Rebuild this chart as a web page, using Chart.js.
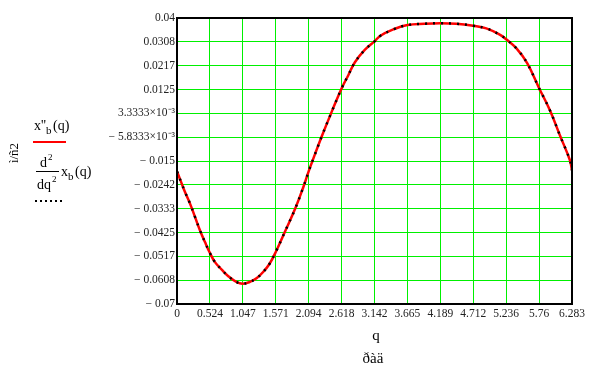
<!DOCTYPE html>
<html>
<head>
  <meta charset="UTF-8">
  <title>x''b(q)</title>
  <script src="https://cdn.jsdelivr.net/npm/chart.js"></script>
  <style>
    body { margin: 0; background: #fff; }
    #wrap { width: 597px; height: 371px; position: relative; }
  </style>
</head>
<body>
  <div id="wrap"><canvas id="chart"></canvas></div>

  <script>
    // q, rad
    const qVals = [0, 0.075, 0.127, 0.207, 0.286, 0.366, 0.445, 0.524, 0.604, 0.711, 0.816, 0.95, 1.047,
      1.16, 1.27, 1.37, 1.47, 1.571, 1.72, 1.877, 2.01, 2.094, 2.17, 2.30, 2.46, 2.618, 2.725, 2.83,
      2.99, 3.142, 3.23, 3.44, 3.665, 3.94, 4.189, 4.44, 4.712, 4.92, 5.14, 5.236, 5.40, 5.57, 5.76,
      5.93, 6.09, 6.25, 6.283];
    // x''b(q)
    const accVals = [-0.0190, -0.0237, -0.0269, -0.0314, -0.0365, -0.0417, -0.0462, -0.0504, -0.0539,
      -0.0568, -0.0593, -0.0616, -0.0622,
      -0.0615, -0.0600, -0.0577, -0.0546, -0.0500, -0.0420, -0.0335, -0.0250, -0.0190, -0.0140,
      -0.0057, 0.0039, 0.0129, 0.0180, 0.0230,
      0.0278, 0.0310, 0.0331, 0.0356, 0.0373, 0.0378, 0.0380, 0.0378, 0.0370, 0.0360, 0.0335,
      0.0318, 0.0283, 0.0226, 0.0130, 0.0046, -0.0051, -0.0147, -0.0186];

    const xTickVals = [0, 0.524, 1.047, 1.571, 2.094, 2.618, 3.142, 3.665, 4.189, 4.712, 5.236, 5.76, 6.283];
    const xTickLabels = ["0", "0.524", "1.047", "1.571", "2.094", "2.618", "3.142", "3.665", "4.189", "4.712", "5.236", "5.76", "6.283"];
    const yTickVals = [0.04, 0.030833, 0.021667, 0.0125, 0.0033333, -0.0058333, -0.015, -0.024167,
      -0.033333, -0.0425, -0.051667, -0.060833, -0.07];
    const yTickLabels = ["0.04", "0.0308", "0.0217", "0.0125", "3.3333×10⁻³", "− 5.8333×10⁻³", "− 0.015",
      "− 0.0242", "− 0.0333", "− 0.0425", "− 0.0517", "− 0.0608", "− 0.07"];

    const points = qVals.map((q, i) => ({ x: q, y: accVals[i] }));
    const SERIF = '"Liberation Serif", "Times New Roman", serif';

    // рамка, легенда и подписи осей
    const extras = {
      id: 'extras',
      afterDraw(chart) {
        const ctx = chart.ctx;
        const a = chart.chartArea;
        ctx.save();
        ctx.strokeStyle = '#000';
        ctx.lineWidth = 2;
        ctx.strokeRect(a.left, a.top, a.right - a.left, a.bottom - a.top);

        ctx.fillStyle = '#000';
        ctx.textBaseline = 'alphabetic';
        ctx.textAlign = 'left';

        // x''b(q)
        ctx.font = '14px ' + SERIF;
        ctx.fillText("x''", 34, 130);
        ctx.font = '11px ' + SERIF;
        ctx.fillText("b", 46, 134);
        ctx.font = '14px ' + SERIF;
        ctx.fillText("(q)", 53, 130);
        ctx.strokeStyle = '#ff0000';
        ctx.lineWidth = 2;
        ctx.beginPath(); ctx.moveTo(33, 142); ctx.lineTo(66, 142); ctx.stroke();

        // d²/dq² xb(q)
        ctx.font = '14px ' + SERIF;
        ctx.fillText("d", 40, 167);
        ctx.font = '9px ' + SERIF;
        ctx.fillText("2", 48, 160);
        ctx.font = '14px ' + SERIF;
        ctx.fillText("dq", 37, 189);
        ctx.font = '9px ' + SERIF;
        ctx.fillText("2", 52, 182);
        ctx.strokeStyle = '#000';
        ctx.lineWidth = 1;
        ctx.beginPath(); ctx.moveTo(36, 171.5); ctx.lineTo(59, 171.5); ctx.stroke();
        ctx.font = '14px ' + SERIF;
        ctx.fillText("x", 61, 176);
        ctx.font = '11px ' + SERIF;
        ctx.fillText("b", 68, 180);
        ctx.font = '14px ' + SERIF;
        ctx.fillText("(q)", 75, 176);
        ctx.lineWidth = 2;
        ctx.setLineDash([2, 3]);
        ctx.beginPath(); ctx.moveTo(35, 201); ctx.lineTo(62, 201); ctx.stroke();
        ctx.setLineDash([]);

        // y title
        ctx.save();
        ctx.translate(18, 153);
        ctx.rotate(-Math.PI / 2);
        ctx.textAlign = 'center';
        ctx.font = '13px ' + SERIF;
        ctx.fillText("ì/ñ2", 0, 0);
        ctx.restore();

        // x title
        ctx.textAlign = 'center';
        ctx.font = '15px ' + SERIF;
        ctx.fillText("q", 376, 340);
        ctx.fillText("ðàä", 373, 363);
        ctx.restore();
      }
    };

    new Chart(document.getElementById("chart"), {
      type: 'line',
      data: {
        datasets: [
          {
            label: "x''b(q)",
            data: points,
            order: 1,
            borderColor: '#ff0000',
            borderWidth: 2.5,
            pointRadius: 0,
            tension: 0.4,
            fill: false
          },
          {
            label: "d2/dq2 xb(q)",
            data: points,
            order: 0,
            borderColor: '#000000',
            borderWidth: 2.5,
            borderDash: [2, 6],
            pointRadius: 0,
            tension: 0.4,
            fill: false
          }
        ]
      },
      options: {
        responsive: true,
        maintainAspectRatio: false,
        animation: false,
        layout: { padding: { top: 18, right: 25, left: 0, bottom: 0 } },
        plugins: {
          legend: { display: false },
          tooltip: { enabled: false }
        },
        scales: {
          x: {
            type: 'linear',
            min: 0,
            max: 6.283,
            afterBuildTicks: s => { s.ticks = xTickVals.map(v => ({ value: v })); },
            afterFit: s => { s.height = 67; },
            grid: { color: '#00f000', lineWidth: 1, drawTicks: false },
            border: { display: false },
            ticks: {
              autoSkip: false,
              maxRotation: 0,
              padding: 3,
              color: '#222',
              font: { family: SERIF, size: 11.5 },
              callback: (v, i) => xTickLabels[i]
            }
          },
          y: {
            min: -0.07,
            max: 0.04,
            afterBuildTicks: s => { s.ticks = yTickVals.map(v => ({ value: v })); },
            afterFit: s => { s.width = 177; },
            grid: { color: '#00f000', lineWidth: 1, drawTicks: false },
            border: { display: false },
            ticks: {
              autoSkip: false,
              padding: 2,
              color: '#222',
              font: { family: SERIF, size: 11.5 },
              callback: (v, i) => yTickLabels[i]
            }
          }
        }
      },
      plugins: [extras]
    });
  </script>
</body>
</html>
